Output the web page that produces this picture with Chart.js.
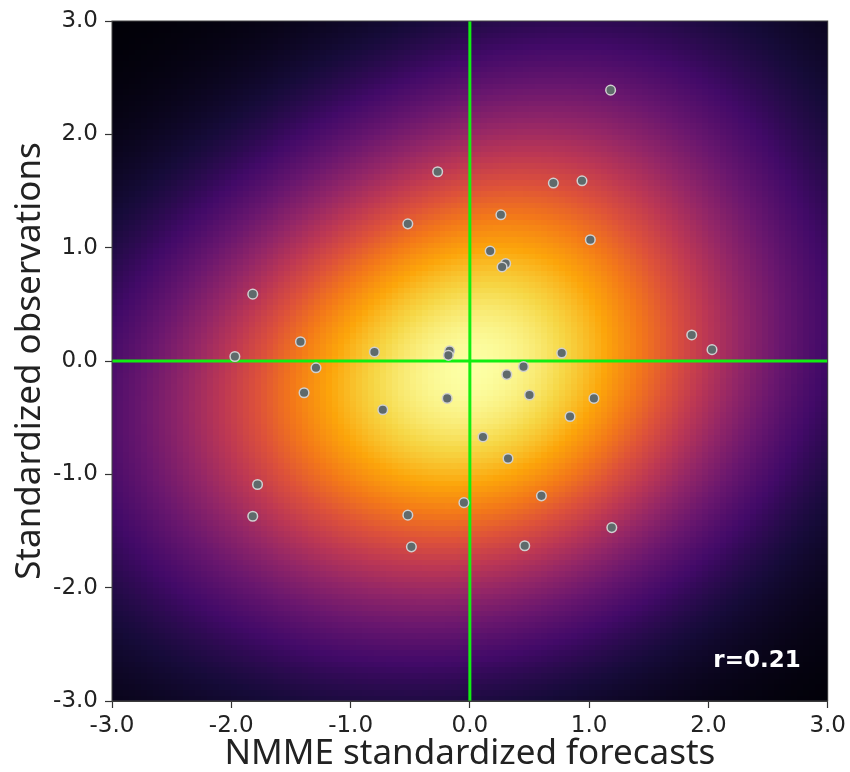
<!DOCTYPE html>
<html>
<head>
<meta charset="utf-8">
<script src="https://cdn.jsdelivr.net/npm/chart.js@4.4.1/dist/chart.umd.min.js"></script>
<style>
  body { margin: 0; background: #fff; }
</style>
</head>
<body>
<canvas id="myChart" width="850" height="772"></canvas>
<script>
// NMME standardized forecasts (x) vs standardized observations (y)
var forecasts = [1.18, -0.27, 0.70, 0.94, -0.52, 0.26, 1.01, 0.17, 0.30, 0.27,
                 -1.82, -1.42, -1.97, -0.80, -0.17, -0.18, -1.29, -1.39, -0.73, -0.19,
                 0.31, 0.45, 0.77, 0.50, 0.84, 1.04, 0.11, 0.32, 1.86, 2.03,
                 -1.78, -1.82, -0.52, -0.49, -0.05, 0.60, 0.46, 1.19];
var observations = [2.39, 1.67, 1.57, 1.59, 1.21, 1.29, 1.07, 0.97, 0.86, 0.83,
                    0.59, 0.17, 0.04, 0.08, 0.09, 0.05, -0.06, -0.28, -0.43, -0.33,
                    -0.12, -0.05, 0.07, -0.30, -0.49, -0.33, -0.67, -0.86, 0.23, 0.10,
                    -1.09, -1.37, -1.36, -1.64, -1.25, -1.19, -1.63, -1.47];
var tickValues = [-3, -2, -1, 0, 1, 2, 3];
var corrLabel = "r=0.21";
// kde bandwidth factors (x, y), scaled by the sample covariance
var kdeFactorX = 1.32;
var kdeFactorY = 1.05;

// inferno colormap, 11 stops
var inferno = ["#000004", "#160b39", "#420a68", "#6a176e", "#932667", "#bc3754",
               "#dd513a", "#f37819", "#fca50a", "#f6d746", "#fcffa4"];

function hexToRgb(h) {
    return [parseInt(h.slice(1, 3), 16), parseInt(h.slice(3, 5), 16), parseInt(h.slice(5, 7), 16)];
}
var infernoRgb = inferno.map(hexToRgb);

function colormap(v) {
    v = Math.max(0, Math.min(1, v));
    var p = v * (infernoRgb.length - 1);
    var i = Math.min(Math.floor(p), infernoRgb.length - 2);
    var t = p - i;
    var a = infernoRgb[i], b = infernoRgb[i + 1];
    return "rgb(" + Math.round(a[0] + (b[0] - a[0]) * t) + "," +
        Math.round(a[1] + (b[1] - a[1]) * t) + "," +
        Math.round(a[2] + (b[2] - a[2]) * t) + ")";
}

// gaussian kde of the points
function kdeGrid(n, lo, hi) {
    var m = forecasts.length;
    var mx = 0, my = 0;
    for (var k = 0; k < m; k++) { mx += forecasts[k]; my += observations[k]; }
    mx /= m; my /= m;
    var sxx = 0, syy = 0, sxy = 0;
    for (k = 0; k < m; k++) {
        var dx = forecasts[k] - mx, dy = observations[k] - my;
        sxx += dx * dx; syy += dy * dy; sxy += dx * dy;
    }
    var a = sxx / (m - 1) * kdeFactorX * kdeFactorX;
    var d = syy / (m - 1) * kdeFactorY * kdeFactorY;
    var b = sxy / (m - 1) * kdeFactorX * kdeFactorY;
    var det = a * d - b * b;
    var ia = d / det, id = a / det, ib = -b / det;

    var step = (hi - lo) / n;
    var grid = [], maxV = 0;
    for (var j = 0; j < n; j++) {
        var row = [];
        var cy = lo + (j + 0.5) * step;
        for (var i = 0; i < n; i++) {
            var cx = lo + (i + 0.5) * step;
            var s = 0;
            for (k = 0; k < m; k++) {
                var ex = cx - forecasts[k], ey = cy - observations[k];
                s += Math.exp(-0.5 * (ia * ex * ex + 2 * ib * ex * ey + id * ey * ey));
            }
            row.push(s);
            if (s > maxV) maxV = s;
        }
        grid.push(row);
    }
    return { grid: grid, max: maxV, step: step };
}

var heatmapPlugin = {
    id: "heatmap",
    beforeDatasetsDraw: function (chart) {
        var ctx = chart.ctx, xs = chart.scales.x, ys = chart.scales.y;
        var lo = xs.min, hi = xs.max, n = 120;
        var kde = kdeGrid(n, lo, hi);
        ctx.save();
        for (var j = 0; j < n; j++) {
            var y0 = ys.getPixelForValue(lo + j * kde.step);
            var y1 = ys.getPixelForValue(lo + (j + 1) * kde.step);
            for (var i = 0; i < n; i++) {
                var x0 = xs.getPixelForValue(lo + i * kde.step);
                var x1 = xs.getPixelForValue(lo + (i + 1) * kde.step);
                ctx.fillStyle = colormap(kde.grid[j][i] / kde.max);
                ctx.fillRect(Math.floor(x0), Math.floor(y1), Math.ceil(x1) - Math.floor(x0), Math.ceil(y0) - Math.floor(y1));
            }
        }
        // zero lines
        var area = chart.chartArea;
        ctx.strokeStyle = "#11ee11";
        ctx.lineWidth = 3;
        ctx.beginPath();
        var px = xs.getPixelForValue(0), py = ys.getPixelForValue(0);
        ctx.moveTo(px, area.top); ctx.lineTo(px, area.bottom);
        ctx.moveTo(area.left, py); ctx.lineTo(area.right, py);
        ctx.stroke();
        ctx.restore();
    },
    afterDatasetsDraw: function (chart) {
        var ctx = chart.ctx, area = chart.chartArea;
        ctx.save();
        ctx.font = "bold 23px 'DejaVu Sans'";
        ctx.fillStyle = "#ffffff";
        ctx.textAlign = "right";
        ctx.textBaseline = "alphabetic";
        ctx.fillText(corrLabel, area.right - 27, area.bottom - 34);
        ctx.strokeStyle = "#444";
        ctx.lineWidth = 1;
        ctx.strokeRect(area.left, area.top, area.right - area.left, area.bottom - area.top);
        ctx.restore();
    }
};

function axisOptions(title, fitFn) {
    return {
        type: "linear",
        min: -3,
        max: 3,
        afterBuildTicks: function (scale) {
            scale.ticks = tickValues.map(function (v) { return { value: v }; });
        },
        afterFit: fitFn,
        ticks: {
            padding: 4,
            color: "#222",
            font: { family: "'DejaVu Sans'", size: 23 },
            callback: function (v) { return v.toFixed(1); }
        },
        grid: {
            drawOnChartArea: false,
            drawTicks: true,
            tickLength: 7,
            tickWidth: 1.2,
            color: "#333"
        },
        border: { display: true, color: "#333" },
        title: {
            display: true,
            text: title,
            color: "#222",
            font: { family: "'Noto Sans'", size: 35, lineHeight: 1 },
            padding: 0
        }
    };
}

var xAxis = axisOptions("NMME standardized forecasts", function (s) { s.height = 71; });
var yAxis = axisOptions("Standardized observations", function (s) { s.width = 112; });
yAxis.ticks.padding = 7;
yAxis.title.padding = { top: 13, bottom: 0 };

var points = forecasts.map(function (x, i) { return { x: x, y: observations[i] }; });

new Chart(document.getElementById("myChart").getContext("2d"), {
    type: "scatter",
    data: {
        datasets: [{
            label: "years",
            data: points,
            pointRadius: 4.8,
            pointBorderWidth: 1.5,
            backgroundColor: "#5f6a6b",
            borderColor: "#d0d0d0"
        }]
    },
    options: {
        responsive: false,
        animation: false,
        layout: { padding: { top: 21, right: 21, left: 0, bottom: 0 } },
        scales: { x: xAxis, y: yAxis },
        plugins: {
            legend: { display: false },
            tooltip: { enabled: false }
        }
    },
    plugins: [heatmapPlugin]
});
</script>
</body>
</html>
